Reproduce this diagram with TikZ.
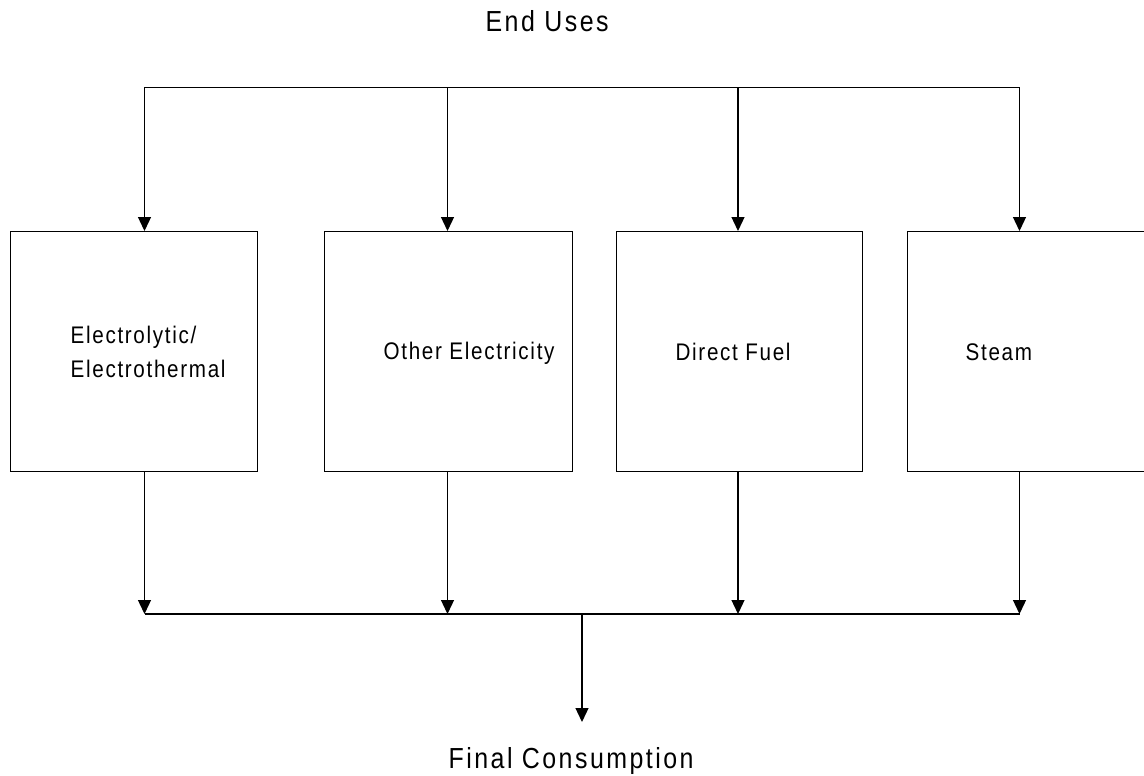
\documentclass[tikz,border=0pt]{standalone}
\usepackage{fontspec}
\setmainfont{Liberation Sans}[FakeStretch=0.86,LetterSpace=7]
\newfontfamily\titlefont{Liberation Sans}[FakeStretch=0.86,LetterSpace=8.5]
\usetikzlibrary{arrows.meta}
\begin{document}
\begin{tikzpicture}[x=1pt,y=-1pt,line width=1.3pt,
  box/.style={draw,rectangle,inner sep=0pt,anchor=north west,minimum height=240pt},
  arr/.style={-{Triangle[length=14pt,width=13pt]}},
  title/.style={font=\titlefont\fontsize{29}{35}\selectfont,anchor=base west,inner sep=0pt},
  lbl/.style={font=\fontsize{24}{34}\selectfont,anchor=base west,inner sep=0pt}]
\useasboundingbox (0,0) rectangle (1144,776);
\clip (0,0) rectangle (1144,776);
% boxes
\node[box,minimum width=247pt] (b1) at (10,231) {};
\node[box,minimum width=248pt] (b2) at (324,231) {};
\node[box,minimum width=246pt] (b3) at (616,231) {};
\node[box,minimum width=253pt] (b4) at (907,231) {};
% labels
\node[lbl] (l1a) at (70,343) {Electrolytic/};
\node[lbl] (l1b) at (70,377) {Electrothermal};
\node[lbl] (l2) at (383,359) {Other Electricity};
\node[lbl] (l3) at (675,360) {Direct Fuel};
\node[lbl] (l4) at (965,360) {Steam};
\node[title] (eu) at (485,32) {End Uses};
\node[title] (fcl) at (448,768) {Final Consumption};
% top distribution
\coordinate (t1) at (144.5,87.5);
\coordinate (t2) at (447.5,87.5);
\coordinate (t3) at (738,87.5);
\coordinate (t4) at (1019.5,87.5);
\draw (t1) -- (t4);
\draw[arr] (t1) -- (t1 |- b1.north);
\draw[arr] (t2) -- (t2 |- b2.north);
\draw[arr] (t3) -- (t3 |- b3.north);
\draw[arr] (t4) -- (t4 |- b4.north);
% bottom collection
\coordinate (m1) at (144.5,614);
\coordinate (m2) at (447.5,614);
\coordinate (m3) at (738,614);
\coordinate (m4) at (1019.5,614);
\draw[arr] (b1.south -| m1) -- (m1);
\draw[arr] (b2.south -| m2) -- (m2);
\draw[arr] (b3.south -| m3) -- (m3);
\draw[arr] (b4.south -| m4) -- (m4);
\draw (m1) -- (m4);
\coordinate (mc) at (582,614);
\coordinate (fc) at (582,722);
\draw[arr] (mc) -- (fc);
\end{tikzpicture}
\end{document}
